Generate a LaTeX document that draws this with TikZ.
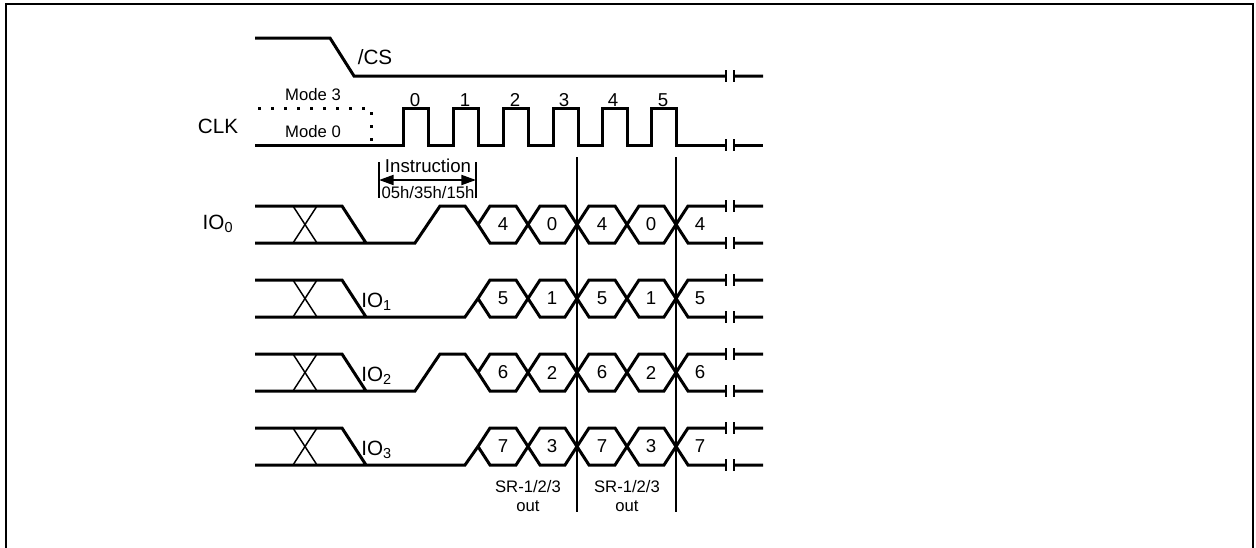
\documentclass[tikz,border=0pt]{standalone}
\usepackage{fontspec}
\setmainfont{Liberation Sans}
\usetikzlibrary{arrows.meta}

\begin{document}
\begin{tikzpicture}[x=0.75pt,y=0.75pt,yscale=-1,xscale=1,
  sig/.style={line width=2.25pt},
  fine/.style={line width=1.1pt},
  brk/.style={line width=1.5pt},
  big/.style={inner sep=0.75pt,font=\fontsize{15.5}{17}\selectfont},
  mid/.style={inner sep=0.75pt,font=\fontsize{14}{16}\selectfont},
  small/.style={inner sep=0.75pt,font=\fontsize{12.5}{14.5}\selectfont}]
            \useasboundingbox (0,0) rectangle (1256,547);
            \draw [line width=1.5pt] (6,552) -- (6,4) -- (1253,4) -- (1253,552) ;
            % /CS
            \draw [sig] (255,38) -- (330,38) -- (354,76) -- (726,76) (734,76) -- (763,76) ;
            \draw [brk] (726,70) -- (726,82)(734,70) -- (734,82) ;
            % CLK
            \draw [sig] (255,145) -- (403,145) -- (403,108) -- (428,108) -- (428,145) -- (453,145) -- (453,108) -- (478,108) -- (478,145) -- (503,145) -- (503,108) -- (528,108) -- (528,145) -- (553,145) -- (553,108) -- (578,108) -- (578,145) -- (602,145) -- (602,108) -- (627,108) -- (627,145) -- (651,145) -- (651,108) -- (676,108) -- (676,145) -- (726,145) (734,145) -- (763,145) ;
            \draw [brk] (726,139) -- (726,151)(734,139) -- (734,151) ;
            \draw [sig,line cap=butt,dash pattern=on 2.25pt off 7.5pt] (258,108) -- (367,108) (371,112) -- (371,145) ;
            % instruction arrow
            \draw [fine] (379,162) -- (379,198)(476,162) -- (476,198) ;
            \draw [line width=1.5pt,{Triangle[length=11pt,width=7.5pt]}-{Triangle[length=11pt,width=7.5pt]}] (379,180) -- (476,180) ;
            % sample lines
            \draw [fine] (577,157) -- (577,512)(676,157) -- (676,512) ;
            % IO0
            \draw [sig] (255,206) -- (342,206) -- (366,243) (255,243) -- (415,243) -- (440,206) -- (465,206) -- (478,224.5) ;
            \draw [sig] (478,224.5) -- (490,206) -- (516,206) -- (528,224.5) -- (540,206) -- (565,206) -- (577,224.5) -- (589,206) -- (615,206) -- (627,224.5) -- (639,206) -- (664,206) -- (676,224.5) -- (688,206) -- (726,206) (734,206) -- (763,206) ;
            \draw [sig] (478,224.5) -- (490,243) -- (516,243) -- (528,224.5) -- (540,243) -- (565,243) -- (577,224.5) -- (589,243) -- (615,243) -- (627,224.5) -- (639,243) -- (664,243) -- (676,224.5) -- (688,243) -- (726,243) (734,243) -- (763,243) ;
            \draw [fine] (293,206) -- (317,243)(293,243) -- (317,206) ;
            \draw [brk] (726,200) -- (726,212)(734,200) -- (734,212)(726,237) -- (726,249)(734,237) -- (734,249) ;
            % IO1
            \draw [sig] (255,280) -- (342,280) -- (366,317) (255,317) -- (465,317) -- (478,298.5) ;
            \draw [sig] (478,298.5) -- (490,280) -- (516,280) -- (528,298.5) -- (540,280) -- (565,280) -- (577,298.5) -- (589,280) -- (615,280) -- (627,298.5) -- (639,280) -- (664,280) -- (676,298.5) -- (688,280) -- (726,280) (734,280) -- (763,280) ;
            \draw [sig] (478,298.5) -- (490,317) -- (516,317) -- (528,298.5) -- (540,317) -- (565,317) -- (577,298.5) -- (589,317) -- (615,317) -- (627,298.5) -- (639,317) -- (664,317) -- (676,298.5) -- (688,317) -- (726,317) (734,317) -- (763,317) ;
            \draw [fine] (293,280) -- (317,317)(293,317) -- (317,280) ;
            \draw [brk] (726,274) -- (726,286)(734,274) -- (734,286)(726,311) -- (726,323)(734,311) -- (734,323) ;
            % IO2
            \draw [sig] (255,354) -- (342,354) -- (366,391) (255,391) -- (415,391) -- (440,354) -- (465,354) -- (478,372.5) ;
            \draw [sig] (478,372.5) -- (490,354) -- (516,354) -- (528,372.5) -- (540,354) -- (565,354) -- (577,372.5) -- (589,354) -- (615,354) -- (627,372.5) -- (639,354) -- (664,354) -- (676,372.5) -- (688,354) -- (726,354) (734,354) -- (763,354) ;
            \draw [sig] (478,372.5) -- (490,391) -- (516,391) -- (528,372.5) -- (540,391) -- (565,391) -- (577,372.5) -- (589,391) -- (615,391) -- (627,372.5) -- (639,391) -- (664,391) -- (676,372.5) -- (688,391) -- (726,391) (734,391) -- (763,391) ;
            \draw [fine] (293,354) -- (317,391)(293,391) -- (317,354) ;
            \draw [brk] (726,348) -- (726,360)(734,348) -- (734,360)(726,385) -- (726,397)(734,385) -- (734,397) ;
            % IO3
            \draw [sig] (255,428) -- (342,428) -- (366,465) (255,465) -- (465,465) -- (478,446.5) ;
            \draw [sig] (478,446.5) -- (490,428) -- (516,428) -- (528,446.5) -- (540,428) -- (565,428) -- (577,446.5) -- (589,428) -- (615,428) -- (627,446.5) -- (639,428) -- (664,428) -- (676,446.5) -- (688,428) -- (726,428) (734,428) -- (763,428) ;
            \draw [sig] (478,446.5) -- (490,465) -- (516,465) -- (528,446.5) -- (540,465) -- (565,465) -- (577,446.5) -- (589,465) -- (615,465) -- (627,446.5) -- (639,465) -- (664,465) -- (676,446.5) -- (688,465) -- (726,465) (734,465) -- (763,465) ;
            \draw [fine] (293,428) -- (317,465)(293,465) -- (317,428) ;
            \draw [brk] (726,422) -- (726,434)(734,422) -- (734,434)(726,459) -- (726,471)(734,459) -- (734,471) ;
            % labels
            \draw (375,57) node [big] (cs) {/CS};
            \draw (218,126) node [big] (clk) {CLK};
            \draw (313,95) node [small] (mode3) {Mode 3};
            \draw (313,132) node [small] (mode0) {Mode 0};
            \draw (415,100) node [mid] (c0) {0};
            \draw (465,100) node [mid] (c1) {1};
            \draw (515,100) node [mid] (c2) {2};
            \draw (564,100) node [mid] (c3) {3};
            \draw (613,100) node [mid] (c4) {4};
            \draw (663,100) node [mid] (c5) {5};
            \draw (428,166) node [mid] (instr) {Instruction};
            \draw (428,193) node [small] (opcode) {05h/35h/15h};
            \draw (218,224) node [big] (io0) {IO\textsubscript{0}};
            \draw (360,302) node [anchor=west][big] (io1) {IO\textsubscript{1}};
            \draw (360,376) node [anchor=west][big] (io2) {IO\textsubscript{2}};
            \draw (360,450) node [anchor=west][big] (io3) {IO\textsubscript{3}};
            \draw (503,224.5) node [mid] (a0) {4};
            \draw (552,224.5) node [mid] (a1) {0};
            \draw (602,224.5) node [mid] (a2) {4};
            \draw (651,224.5) node [mid] (a3) {0};
            \draw (700,224.5) node [mid] (a4) {4};
            \draw (503,298.5) node [mid] (b0) {5};
            \draw (552,298.5) node [mid] (b1) {1};
            \draw (602,298.5) node [mid] (b2) {5};
            \draw (651,298.5) node [mid] (b3) {1};
            \draw (700,298.5) node [mid] (b4) {5};
            \draw (503,372.5) node [mid] (e0) {6};
            \draw (552,372.5) node [mid] (e1) {2};
            \draw (602,372.5) node [mid] (e2) {6};
            \draw (651,372.5) node [mid] (e3) {2};
            \draw (700,372.5) node [mid] (e4) {6};
            \draw (503,446.5) node [mid] (f0) {7};
            \draw (552,446.5) node [mid] (f1) {3};
            \draw (602,446.5) node [mid] (f2) {7};
            \draw (651,446.5) node [mid] (f3) {3};
            \draw (700,446.5) node [mid] (f4) {7};
            \draw (528,496) node [small,align=center] (sr1) {SR-1/2/3\\out};
            \draw (627,496) node [small,align=center] (sr2) {SR-1/2/3\\out};
            \end{tikzpicture}
\end{document}
